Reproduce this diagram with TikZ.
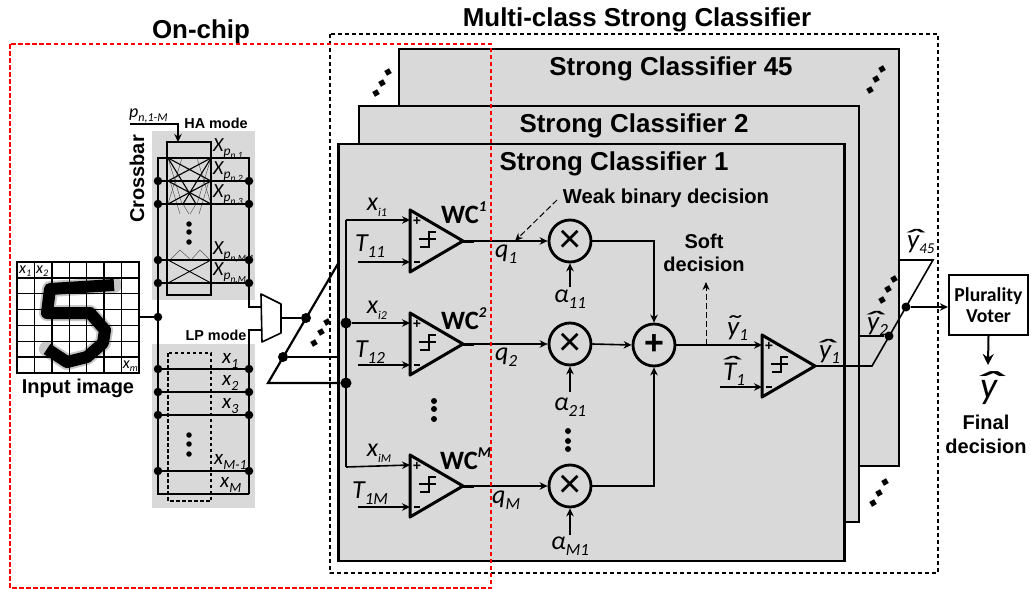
\documentclass[tikz,border=0pt]{standalone}
\usepackage{fontspec}
\usepackage{graphicx}
\usetikzlibrary{arrows.meta}
\setmainfont{Liberation Sans}
\newfontfamily\car{Carlito}
\newcommand\fs[1]{\fontsize{#1}{#1}\selectfont}
\newcommand\sbs[2]{\raisebox{-0.22em}{\fs{#1}#2}}
\newsavebox\accbox
\newcommand\wh[2][0em]{\sbox\accbox{#2}\makebox[0pt][l]{\makebox[\wd\accbox][c]{\raisebox{#1}{\scalebox{2.6}[1.05]{ˆ}}}}\usebox\accbox}
\newcommand\wtl[1]{\sbox\accbox{#1}\makebox[0pt][l]{\makebox[\wd\accbox][c]{\raisebox{.02em}{\scalebox{1.7}[1.05]{˜}}}}\usebox\accbox}
\definecolor{pan}{HTML}{D9D9D9}
\tikzset{
 x=1pt,y=-1pt,
 panel/.style={draw=black,fill=pan,line width=2.4pt},
 wire/.style={line width=1.6pt},
 thickwire/.style={line width=2.2pt},
 arr/.style={line width=1.6pt,-{Stealth[length=8pt,width=7.5pt]}},
 jdot/.style={circle,fill=black,inner sep=0pt,minimum size=8.5pt},
 sdot/.style={circle,fill=black,inner sep=0pt,minimum size=5.5pt},
 sq/.style={fill=black,inner sep=0pt,minimum size=5.5pt,rotate=30},
 opcirc/.style={circle,draw=black,line width=2.8pt,minimum size=42pt,inner sep=0pt,font=\fs{40}},
 tt/.style={font=\bfseries\fs{25.9},inner sep=0pt},
 bl/.style={font=\bfseries\fs{20},inner sep=0pt,align=center},
 bm/.style={font=\bfseries\fs{14.4},inner sep=0pt},
 lab/.style={font=\car\itshape\fs{26},inner sep=0pt},
 hatl/.style={font=\car\itshape\fs{27},inner sep=0pt,anchor=base west},
 xl/.style={font=\car\itshape\fs{20},inner sep=0pt,anchor=west},
 wcl/.style={font=\car\bfseries\fs{26.5},inner sep=0pt,anchor=base west},
}
\newcommand\compar[4]{% name, xleft, ytip, size-free
 \coordinate (#1in) at (#2,#3-21);
 \coordinate (#1ref) at (#2,#3+21);
 \coordinate (#1out) at (#2+53,#3);
 \draw[line width=3pt,line join=round] (#2,#3-31) -- (#2+53,#3) -- (#2,#3+31) -- cycle;
 \draw[line width=1.8pt] (#2+10,#3+6) -- (#2+19,#3+6) -- (#2+19,#3-9) -- (#2+26,#3-9) (#2+9,#3-2) -- (#2+26,#3-2);
 \node[font=\bfseries\fs{14},inner sep=0pt] (#1p) at (#2+7,#3-20) {+};
 \node[font=\bfseries\fs{11},inner sep=0pt] (#1m) at (#2+7,#3+21) {\rule{6.5pt}{1.8pt}};
}
\begin{document}
\begin{tikzpicture}
\useasboundingbox (0,0) rectangle (1031,589);
% ---------- panels
\node[panel,minimum width=500pt,minimum height=417pt,inner sep=0pt] (sc45) at (649,257.5) {};
\node[panel,minimum width=500pt,minimum height=416pt,inner sep=0pt] (sc2) at (609,314) {};
\node[panel,line width=2.8pt,minimum width=506pt,minimum height=417pt,inner sep=0pt] (sc1) at (591.5,352.5) {};
\node[tt] (t45) at (671,69) {Strong Classifier 45};
\node[tt] (t2) at (634,126) {Strong Classifier 2};
\node[tt] (t1) at (614,164) {Strong Classifier 1};
\node[tt] (tm) at (637,20) {Multi-class Strong Classifier};
\node[tt] (tc) at (201,32) {On-chip};
% ---------- ellipses between panels
\foreach \n/\a/\b in {a1/376/93,a2/382/83,a3/388/72,b1/870/90,b2/876/79,b3/882/69,c1/873/503,c2/879/493,c3/885/482,d1/314/343,d2/321/332,d3/327/322,e1/882/300,e2/888/289,e3/894/279}
  \node[sq] (\n) at (\a,\b) {};
% ---------- input image
\begin{scope}
 \draw[line width=16pt,black!22,line cap=round,line join=round] (114,285) -- (50,289) -- (47,313) -- (90,313) -- (105,330) -- (103,343) -- (87,357) -- (67,362) -- (47,349);
 \draw[line width=12pt,black,line cap=butt,line join=round] (114,285) -- (50,289) -- (47,313) -- (90,313) -- (105,330) -- (103,343) -- (87,357) -- (67,362) -- (47,349);
 \foreach \i in {1,...,6} {
  \draw[line width=1.3pt] ({17+\i*122/7},262) -- ({17+\i*122/7},373);
  \draw[line width=1.3pt] (17,{262+\i*111/7}) -- (139,{262+\i*111/7});
 }
 \node[draw,line width=2pt,minimum width=122pt,minimum height=111pt,inner sep=0pt] (img) at (78,317.5) {};
\end{scope}
\node[xl,font=\car\itshape\fs{16}] (px1) at (19,271) {x\sbs{10}{1}};
\node[xl,font=\car\itshape\fs{16}] (px2) at (36,271) {x\sbs{10}{2}};
\node[xl,anchor=east,font=\car\itshape\fs{16}] (pxm) at (138,366) {x\sbs{10}{m}};
\node[bl] (inp) at (78,388) {Input image};
% ---------- crossbar
\node[fill=pan,minimum width=103pt,minimum height=169pt,inner sep=0pt] (ha) at (203.5,215.5) {};
\node[fill=pan,minimum width=103pt,minimum height=164pt,inner sep=0pt] (lp) at (203.5,426) {};
\node[bl,rotate=90] (cb) at (137,179) {Crossbar};
\node[bm] (hat) at (216,123) {HA mode};
\node[bm] (lpt) at (216,335) {LP mode};
% thin crossings
\begin{scope}[line width=.5pt,black!65]
 \draw (168,158) -- (182,204) (211,158) -- (197,204) (182,158) -- (168,204) (197,158) -- (211,204);
 \draw (170,181) -- (180,214) (209,181) -- (199,214) (183,204) -- (189,214) (196,204) -- (190,214);
 \draw (170,260) -- (180,250) -- (191,260) -- (200,250) -- (210,260);
\end{scope}
\draw[line width=1.1pt] (168,158) -- (211,181) (168,181) -- (211,158);
\draw[line width=1.1pt] (168,181) -- (211,204) (168,204) -- (211,181);
\draw[line width=.9pt] (168,260) -- (211,283) (168,283) -- (211,260);
\draw[line width=1.1pt] (168,158) -- (196,204) (211,158) -- (183,204);
\draw[thickwire] (167,142) rectangle (211,295);
% nets
\coordinate (ltop) at (158,158);
\coordinate (rtop) at (249,158);
\coordinate (lbot) at (158,494);
\coordinate (rbot) at (249,494);
\draw[thickwire] (rbot) -- (lbot) -- (ltop) -- (rtop) -- (249,307) -- (261,307);
\draw[thickwire] (rbot) -- (249,330) -- (262,330);
\foreach \nm/\y in {h2/181,h3/204,h4/260,h5/283,l1/369,l2/392,l3/415,l4/471} {
 \node[jdot] (\nm L) at (158,\y) {};
 \node[jdot] (\nm R) at (249,\y) {};
 \draw[wire] (\nm L) -- (\nm R);
}
\draw[line width=1.5pt,dash pattern=on 3.5pt off 2.5pt] (168,353) rectangle (211,501);
\foreach \n/\y in {u1/224,u2/232,u3/242} \node[sdot] (\n) at (189,\y) {};
\foreach \n/\y in {v1/435,v2/444,v3/454} \node[sdot] (\n) at (189,\y) {};
\node[jdot] (inj) at (158,317) {};
\draw[thickwire] (img.east |- inj) -- (inj);
\coordinate (pa) at (130,124);
\coordinate (pb) at (178,124);
\coordinate (pc) at (178,142);
\draw[arr] (pa) -- (pb) -- (pc);
\node[xl,font=\car\itshape\fs{18}] (pl) at (129,116) {p\sbs{12}{n,1-M}};
\node[xl] (xp1) at (213,149) {X\sbs{13.5}{p\sbs{9.5}{n,1}}};
\node[xl] (xp2) at (213,172) {X\sbs{13.5}{p\sbs{9.5}{n,2}}};
\node[xl] (xp3) at (213,195) {X\sbs{13.5}{p\sbs{9.5}{n,3}}};
\node[xl] (xp4) at (213,252) {X\sbs{13.5}{p\sbs{9.5}{n,M-1}}};
\node[xl] (xp5) at (213,273) {X\sbs{13.5}{p\sbs{9.5}{n,M}}};
\node[xl,font=\car\itshape\fs{21}] (x1) at (222,361) {x\sbs{14}{1}};
\node[xl,font=\car\itshape\fs{21}] (x2) at (222,383) {x\sbs{14}{2}};
\node[xl,font=\car\itshape\fs{21}] (x3) at (222,406) {x\sbs{14}{3}};
\node[xl,font=\car\itshape\fs{21}] (x4) at (214,462) {x\sbs{14}{M-1}};
\node[xl,font=\car\itshape\fs{21}] (x5) at (220,485) {x\sbs{14}{M}};
% ---------- mux
\draw[line width=1.6pt,fill=white,line join=round] (261,294) -- (281,304) -- (281,333) -- (262,342) -- cycle;
\coordinate (muxo) at (281,318);
\node[jdot,minimum size=10pt] (d1) at (306,318) {};
\draw[thickwire] (muxo) -- (d1);
% demux bus
\coordinate (sa) at (268,383);
\coordinate (sb) at (339,262);
\node[jdot,minimum size=10pt] (d2) at (283,357) {};
\node[jdot,minimum size=11pt] (b1) at (346,323) {};
\node[jdot,minimum size=11pt] (b2) at (346,383) {};
\draw[thickwire] (b2) -- (sa) -- (sb);
\draw[thickwire] (d2) -- (sc1.west |- d2);
% ---------- comparators
\compar{w1}{410}{241}{}
\compar{w2}{410}{344}{}
\compar{w3}{410}{486}{}
\compar{f}{762}{366}{}
\coordinate (bt) at (346,220);
\coordinate (bb) at (346,467);
\draw[wire] (bt) -- (bb);
\draw[arr] (bt) -- (w1in);
\draw[arr] (b1) -- (w2in);
\draw[arr] (bb) -- (w3in);
\foreach \n/\y in {1/241,2/344,3/486} {
 \coordinate (ts\n) at (358,\y+21);
 \draw[arr] (ts\n) -- (w\n ref);
 \draw[line width=3pt] (w\n out) -- ++(11,0);
}
\node[lab] (xi1) at (377,207) {x\sbs{12}{i1}};
\node[lab] (xi2) at (377,310) {x\sbs{12}{i2}};
\node[lab] (xi3) at (379,453) {x\sbs{12}{iM}};
\node[lab] (t11) at (370,246) {T\sbs{17}{11}};
\node[lab] (t12) at (370,352) {T\sbs{17}{12}};
\node[lab] (t1m) at (370,493) {T\sbs{17}{1M}};
\node[wcl] (wc1) at (441,223) {WC\raisebox{.42em}{\fs{15}\itshape 1}};
\node[wcl] (wc2) at (441,329) {WC\raisebox{.42em}{\fs{15}\itshape 2}};
\node[wcl] (wc3) at (440,469) {WC\raisebox{.42em}{\fs{15}\itshape M}};
\node[lab,anchor=west] (q1) at (495,254) {q\sbs{17}{1}};
\node[lab,anchor=west] (q2) at (495,357) {q\sbs{17}{2}};
\node[lab,anchor=west] (q3) at (492,500) {q\sbs{17}{M}};
% ---------- multipliers
\node[opcirc] (m1) at (570,241) {×};
\node[opcirc] (m2) at (570,344) {×};
\node[opcirc] (m3) at (570,486) {×};
\node[opcirc,font=\bfseries\fs{34}] (add) at (654,345) {+};
\foreach \n in {1,2,3} \draw[arr] (w\n out) -- (m\n.west);
\node[lab] (a1) at (570,299) {α\sbs{17}{11}};
\node[lab] (a2) at (570,407) {α\sbs{17}{21}};
\node[lab] (a3) at (570,546) {α\sbs{17}{M1}};
\coordinate (a1t) at (570,287);
\coordinate (a2t) at (570,392);
\coordinate (a3t) at (570,535);
\draw[arr] (a1t) -- (m1.south);
\draw[arr] (a2t) -- (m2.south);
\draw[arr] (a3t) -- (m3.south);
\foreach \n/\a/\b in {g1/434/401,g2/434/409,g3/434/419,g4/568/431,g5/568/441,g6/568/449} \node[sdot,minimum size=6pt] (\n) at (\a,\b) {};
\draw[arr] (m1.east) -| (add.north);
\draw[arr] (m2.east) -- (add.west);
\draw[arr] (m3.east) -| (add.south);
\draw[arr] (add.east) -- (fin);
\coordinate (softb) at (706,345);
\coordinate (softt) at (706,282);
\draw[line width=1pt,dash pattern=on 6pt off 3pt,-{Stealth[length=8pt,width=7pt]}] (softb) -- (softt);
\node[bl] (soft) at (704,253) {Soft\\[3pt]decision};
\node[bl,font=\bfseries\fs{20.2}] (weak) at (666,198) {Weak binary decision};
\coordinate (wka) at (557,200);
\coordinate (wkb) at (515,241);
\draw[line width=1pt,dash pattern=on 6pt off 3pt,-{Stealth[length=8pt,width=7pt]}] (wka) -- (wkb);
\coordinate (tf) at (720,387);
\draw[arr] (tf) -- (fref);
\node[hatl] (ty) at (727,335) {\wtl{y}\sbs{17}{1}};
\node[hatl] (tt) at (723,380) {\wh[.16em]{T}\sbs{17}{1}};
\node[hatl] (hy1) at (819,358) {\wh{y}\sbs{17}{1}};
\node[hatl] (hy2) at (867,330) {\wh{y}\sbs{17}{2}};
\node[hatl] (hy3) at (907,248) {\wh{y}\sbs{15}{45}};
% ---------- output selector
\coordinate (s1) at (872,366);
\coordinate (s2) at (933,260);
\coordinate (s3) at (899,260);
\node[jdot,minimum size=9pt] (d3) at (889,336) {};
\node[jdot,minimum size=9pt] (d4) at (906,307) {};
\draw[wire] (fout) -- (s1) -- (s2) -- (s3);
\draw[wire] (d3) -- (sc2.east |- d3);
\node[draw,line width=2.2pt,minimum width=79pt,minimum height=60pt,inner sep=0pt,font=\car\bfseries\fs{19.7},align=center] (pv) at (988.5,305) {Plurality\\[1pt]Voter};
\draw[arr] (d4) -- (pv.west |- d4);
\coordinate (pvo) at (988,365);
\draw[line width=2pt,-{Stealth[length=11pt,width=11pt]}] (pv.south) -- (pvo);
\node[hatl,font=\car\itshape\fs{38}] (yf) at (980,398) {\wh{y}};
\node[bl] (fd) at (986,434) {Final\\[4pt]decision};
% ---------- dashed frames
\draw[line width=1.7pt,dash pattern=on 4pt off 3pt,line join=round] (330,34) rectangle (938,573);
\draw[red,line width=2.4pt,dash pattern=on 4.5pt off 2.5pt] (10,44) rectangle (491,588);
\end{tikzpicture}
\end{document}
